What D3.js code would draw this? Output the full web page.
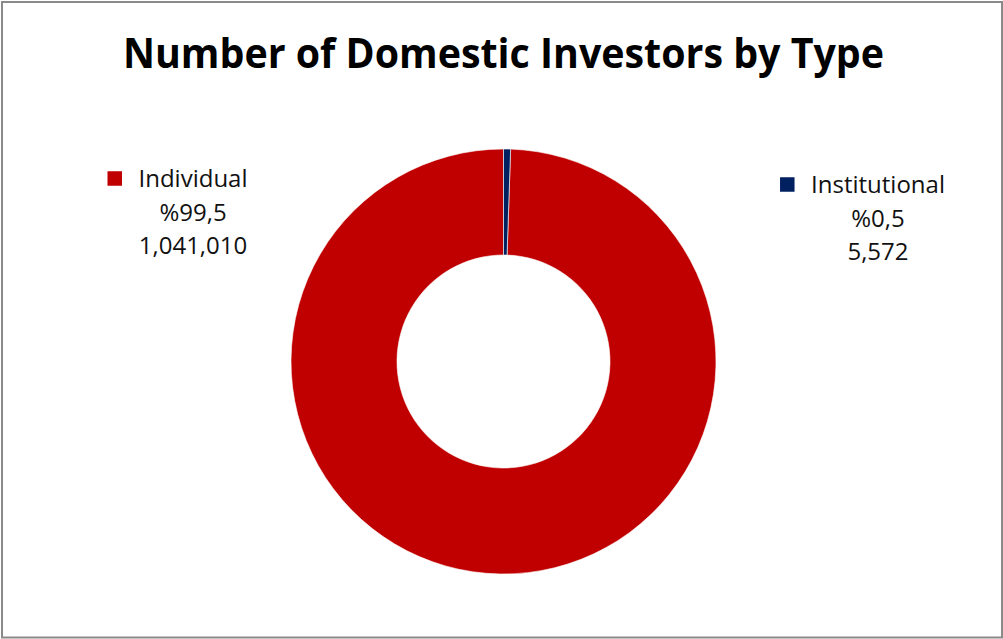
<!DOCTYPE html>
<html>
<head>
<meta charset="utf-8">
<script src="https://cdn.jsdelivr.net/npm/d3@7"></script>
<style>
  html, body { margin: 0; padding: 0; background: #fff; }
  svg { display: block; }
</style>
</head>
<body>
<svg id="chart" width="1003" height="639"></svg>
<script>
// Investor counts by type
const categories = ["Individual", "Institutional"];
const investorCounts = [1041010, 5572];
const sliceColors = ["#C00000", "#002060"];
const chartTitle = "Number of Domestic Investors by Type";

const W = 1003, H = 639;
const svg = d3.select("#chart");

// Frame
svg.append("rect")
  .attr("x", 2).attr("y", 2)
  .attr("width", W - 3).attr("height", H - 3.5)
  .attr("fill", "#fff")
  .attr("stroke", "#8a8a8a")
  .attr("stroke-width", 2);

// Title, fitted to its span
const title = svg.append("text")
  .attr("x", 503.5).attr("y", 67.5)
  .attr("text-anchor", "middle")
  .attr("font-family", "'Open Sans', sans-serif")
  .attr("font-weight", 700)
  .attr("font-size", 41)
  .attr("fill", "#000")
  .text(chartTitle);
const titleSpan = 761;
if (title.node().getComputedTextLength() > titleSpan) {
  title.attr("textLength", titleSpan).attr("lengthAdjust", "spacingAndGlyphs");
}

// Doughnut
const cx = 503.5, cy = 361.5, rOuter = 212.5, rInner = 106.5;
const total = d3.sum(investorCounts);
const data = categories.map((c, i) => ({ name: c, value: investorCounts[i], color: sliceColors[i] }));

// The small slice sits just clockwise of 12 o'clock; the large slice follows it.
const lead = 2 * Math.PI * investorCounts[1] / total;
const pie = d3.pie().value(d => d.value).sort(null)
  .startAngle(lead).endAngle(lead + 2 * Math.PI);
const arc = d3.arc().innerRadius(rInner).outerRadius(rOuter);

const g = svg.append("g").attr("transform", `translate(${cx},${cy})`);
g.selectAll("path")
  .data(pie(data))
  .join("path")
  .attr("d", arc)
  .attr("fill", d => d.data.color)
  .attr("stroke", "#fff")
  .attr("stroke-width", 0.6);

// Data labels with legend keys
const pct = v => "%" + d3.format(".1f")(v * 100 / total).replace(".", ",");
const num = d3.format(",");
const labelAnchors = [
  { x: 193, y: 187 },
  { x: 878, y: 193 }
];
const lineGap = 33.5;
const keySize = 14.5;

data.forEach((d, i) => {
  const a = labelAnchors[i];
  const lines = [d.name, pct(d.value), num(d.value)];
  const lg = svg.append("g");
  const texts = lg.selectAll("text")
    .data(lines)
    .join("text")
    .attr("x", a.x)
    .attr("y", (t, j) => a.y + j * lineGap)
    .attr("text-anchor", "middle")
    .attr("font-family", "'Open Sans', sans-serif")
    .attr("font-size", 24)
    .attr("fill", "#111")
    .text(t => t);
  const w0 = texts.nodes()[0].getComputedTextLength();
  lg.append("rect")
    .attr("x", a.x - w0 / 2 - 16.5 - keySize)
    .attr("y", a.y - 8.5 - keySize / 2)
    .attr("width", keySize).attr("height", keySize)
    .attr("fill", d.color);
});
</script>
</body>
</html>
